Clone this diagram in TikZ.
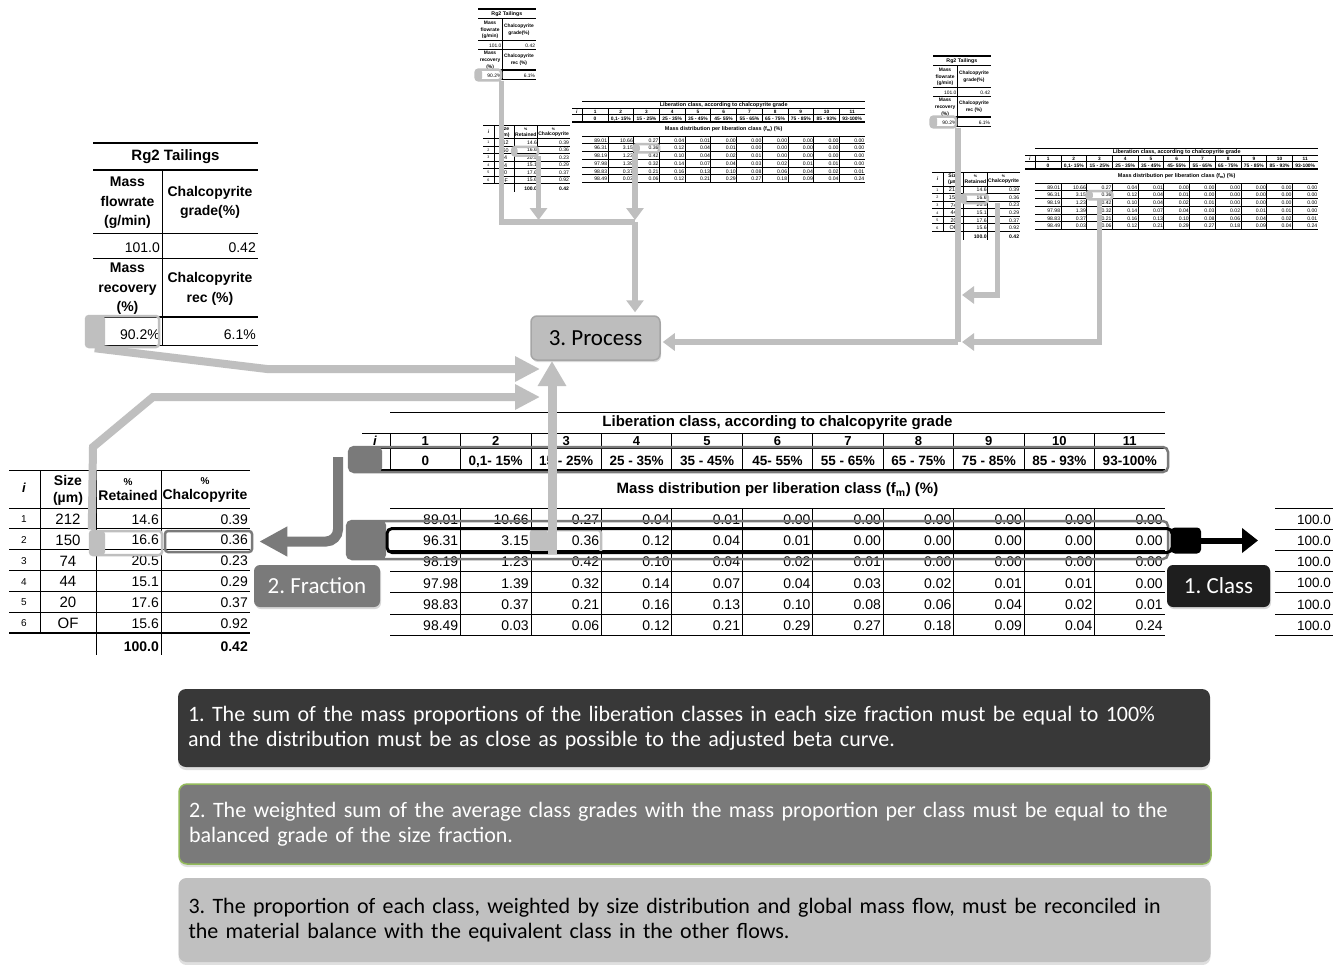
\documentclass[tikz,border=0pt]{standalone}
\usepackage{fontspec}
\setmainfont{Liberation Sans}
\newfontfamily\calibrifont{Carlito}
\usetikzlibrary{arrows.meta,shadows}
\frenchspacing
\definecolor{LightFlow}{HTML}{BFBFBF}
\definecolor{MidGray}{HTML}{7A7A7A}
\definecolor{DarkNote}{HTML}{383838}
\definecolor{ClassBlack}{HTML}{1E1E1E}
\definecolor{ProcFill}{HTML}{BDBDBD}
\definecolor{ProcEdge}{HTML}{A5A5A5}
\definecolor{NoteGreen}{HTML}{92B95A}
\definecolor{NoteLight}{HTML}{C0C0C0}

\tikzset{
  rule/.style={line width=0.7pt},
  heavyrule/.style={line width=1.6pt},
  hdr/.style={font=\bfseries\fontsize{14}{19.5}\selectfont,align=center,inner sep=0pt},
  val/.style={font=\fontsize{14}{16}\selectfont,anchor=east,inner sep=0pt},
  ctr/.style={font=\fontsize{14}{16}\selectfont,inner sep=0pt},
  hlcell/.style={draw=LightFlow,line width=2.5pt,rounded corners=3pt,inner sep=0pt},
  rowframe/.style={draw=MidGray,line width=2.5pt,rounded corners=5pt,inner sep=0pt},
  lgflow/.style={draw=LightFlow,line width=8pt,-{Triangle[length=25pt,width=24pt]}},
  lgthin/.style={draw=LightFlow,line width=5.5pt},
  thintip/.style={-{Triangle[length=12pt,width=17pt]}},
  fracflow/.style={draw=MidGray,line width=10pt,rounded corners=12pt,-{Triangle[length=28pt,width=28pt]}},
  tag/.style={rounded corners=6pt,font=\calibrifont\fontsize{23}{26}\selectfont,inner sep=0pt,
    drop shadow={opacity=0.3,shadow xshift=1pt,shadow yshift=-2pt}},
  note/.style={rounded corners=8pt,font=\calibrifont\fontsize{22}{25}\selectfont,align=left,
    text width=1012pt,inner xsep=10pt,inner ysep=0pt,
    drop shadow={opacity=0.25,shadow xshift=0pt,shadow yshift=-3pt}},
}

\newcommand\tailtab[1]{%
  \draw[heavyrule] (0,0) -- (165,0);
  \node[hdr,font=\bfseries\fontsize{15}{18}\selectfont] (#1-name) at (82.5,13.5) {Rg2 Tailings};
  \draw[heavyrule] (0,27) -- (165,27);
  \draw[rule] (69,27) -- (69,202);
  \node[hdr] (#1-flowh) at (34.5,60) {Mass\\flowrate\\(g/min)};
  \node[hdr] (#1-gradeh) at (117,59.5) {Chalcopyrite\\grade(\%)};
  \draw[rule] (0,90) -- (165,90);
  \node[val] (#1-flow) at (67,105) {101.0};
  \node[val] (#1-grade) at (163,105) {0.42};
  \draw[rule] (0,115) -- (165,115);
  \node[hdr] (#1-mrech) at (34.5,146) {Mass\\recovery\\(\%)};
  \node[hdr] (#1-crech) at (117,146) {Chalcopyrite\\rec (\%)};
  \draw[heavyrule] (0,174) -- (165,174);
  \node[val] (#1-mrec) at (67,192) {90.2\%};
  \node[val] (#1-crec) at (163,192) {6.1\%};
  \draw[rule] (0,202) -- (165,202);
}
\newcommand\tailmark[1]{%
  \fill[LightFlow,rounded corners=3pt] (-7,173) rectangle (12,204);
  \node[hlcell,minimum width=73pt,minimum height=31pt] (#1-hl) at (29.5,188.5) {};
}

\newcommand\sizetab[1]{%
  \draw[rule] (0,0) -- (241,0);
  \foreach \x in {31,87,152} \draw[rule] (\x,0) -- (\x,163);
  \foreach \x in {87,152} \draw[rule] (\x,163) -- (\x,185);
  \node[hdr,font=\bfseries\itshape\fontsize{13}{15}\selectfont] (#1-hi) at (15,18) {i};
  \node[hdr,font=\bfseries\fontsize{14}{17}\selectfont] (#1-hsize) at (59,20) {Size\\(µm)};
  \node[hdr,font=\bfseries\fontsize{14}{15}\selectfont] (#1-hret) at (119,20) {{\fontsize{10}{12}\selectfont\%}\\Retained};
  \node[hdr,font=\bfseries\fontsize{14}{15}\selectfont] (#1-hcha) at (196,20) {{\fontsize{10}{12}\selectfont\%}\\Chalcopyrite};
  \draw[rule] (0,38) -- (241,38);
  \foreach \s/\p/\g [count=\k] in {212/14.6/0.39,150/16.6/0.36,74/20.5/0.23,44/15.1/0.29,20/17.6/0.37,OF/15.6/0.92}{
    \node[ctr,font=\fontsize{10}{12}\selectfont] (#1-i\k) at (15,{38+20.8*\k-9.5}) {\k};
    \node[ctr,font=\fontsize{15}{17}\selectfont] (#1-s\k) at (59,{38+20.8*\k-9.5}) {\s};
    \node[val] (#1-r\k) at (150,{38+20.8*\k-9.5}) {\p};
    \node[val] (#1-c\k) at (239,{38+20.8*\k-9.5}) {\g};
    \draw[rule] (0,{38+20.8*\k}) -- (241,{38+20.8*\k});
  }
  \draw[heavyrule] (0,162.8) -- (241,162.8);
  \node[val,font=\bfseries\fontsize{14}{16}\selectfont] (#1-rtot) at (150,177) {100.0};
  \node[val,font=\bfseries\fontsize{14}{16}\selectfont] (#1-ctot) at (239,177) {0.42};
}
\newcommand\sizemark[1]{%
  \fill[LightFlow,rounded corners=3pt] (81,61) rectangle (96,85);
  \node[hlcell,minimum width=72pt,minimum height=24pt] (#1-hl) at (117,73) {};
}

\newcommand\libtab[1]{%
  \draw[rule] (28,0) -- (803,0);
  \node[hdr,font=\bfseries\fontsize{15}{17}\selectfont] (#1-title) at (415.5,11) {Liberation class, according to chalcopyrite grade};
  \draw[rule] (0,21) -- (803,21);
  \draw[rule] (0,36) -- (803,36);
  \draw[heavyrule] (0,58) -- (803,58);
  \foreach \k in {0,...,10} \draw[rule] ({28+70.45*\k},21) -- ({28+70.45*\k},58);
  \node[hdr,font=\bfseries\itshape\fontsize{13}{15}\selectfont] (#1-i) at (13,29) {i};
  \foreach \t [count=\k] in {0,{0,1- 15\%},{15 - 25\%},{25 - 35\%},{35 - 45\%},{45- 55\%},{55 - 65\%},{65 - 75\%},{75 - 85\%},{85 - 93\%},{93-100\%}}{
    \node[hdr,font=\bfseries\fontsize{13}{15}\selectfont] (#1-n\k) at ({28+70.45*\k-35.2},29) {\k};
    \node[hdr,font=\bfseries\fontsize{13.5}{15}\selectfont,anchor=base] (#1-g\k) at ({28+70.45*\k-35.2},53) {\t};
  }
  \node[hdr,font=\bfseries\fontsize{15}{17}\selectfont] (#1-sub) at (415.5,78) {Mass distribution per liberation class (f\textsubscript{m}) (\%)};
  \draw[rule] (28,96) -- (803,96);
  \foreach \row [count=\ri] in {{89.01,10.66,0.27,0.04,0.01,0.00,0.00,0.00,0.00,0.00,0.00},
      {96.31,3.15,0.36,0.12,0.04,0.01,0.00,0.00,0.00,0.00,0.00},
      {98.19,1.23,0.42,0.10,0.04,0.02,0.01,0.00,0.00,0.00,0.00},
      {97.98,1.39,0.32,0.14,0.07,0.04,0.03,0.02,0.01,0.01,0.00},
      {98.83,0.37,0.21,0.16,0.13,0.10,0.08,0.06,0.04,0.02,0.01},
      {98.49,0.03,0.06,0.12,0.21,0.29,0.27,0.18,0.09,0.04,0.24}}{
    \foreach \v [count=\ci] in \row
      \node[val] (#1-d\ri-\ci) at ({28+70.45*\ci-2},{96+21.2*\ri-9.5}) {\v};
    \draw[rule] (28,{96+21.2*\ri}) -- (803,{96+21.2*\ri});
  }
  \foreach \k in {1,...,10} \draw[rule] ({28+70.45*\k},96) -- ({28+70.45*\k},223.2);
}
\newcommand\libmark[1]{%
  \fill[LightFlow,rounded corners=3pt] (169,118) rectangle (186,141);
  \node[hlcell,minimum width=70pt,minimum height=23pt] (#1-hl) at (204,129.5) {};
}

\begin{document}
\begin{tikzpicture}[x=1pt,y=-1pt]
\fill[white] (0,0) rectangle (1343,964);
\useasboundingbox (0,0) rectangle (1343,964);

\begin{scope}[shift={(478,9)},scale=0.35,transform shape]
  \tailtab{at} \tailmark{at}
\end{scope}
\begin{scope}[shift={(483,125)},scale=0.36,transform shape]
  \sizetab{as} \sizemark{as}
\end{scope}
\begin{scope}[shift={(572,101)},scale=0.365,transform shape]
  \libtab{al} \libmark{al}
\end{scope}
\begin{scope}[shift={(933,56)},scale=0.35,transform shape]
  \tailtab{bt} \tailmark{bt}
\end{scope}
\begin{scope}[shift={(932,172)},scale=0.365,transform shape]
  \sizetab{bs} \sizemark{bs}
\end{scope}
\begin{scope}[shift={(1025,148)},scale=0.365,transform shape]
  \libtab{bl} \libmark{bl}
\end{scope}

\begin{scope}[shift={(93,143)}]
  \tailtab{mt} \tailmark{mt}
\end{scope}
\begin{scope}[shift={(9,470)}]
  \sizetab{ms} \sizemark{ms}
\end{scope}
\begin{scope}[shift={(362,412)}]
  \libtab{ml} \libmark{ml}
\end{scope}

\foreach \k in {0,...,6} \draw[rule] (1275,{508+21.2*\k}) -- (1333,{508+21.2*\k});
\foreach \k in {1,...,6} \node[val,font=\fontsize{13.5}{16}\selectfont] (tot\k) at (1331,{508+21.2*\k-9.5}) {100.0};

\node[tag,fill=ProcFill,draw=ProcEdge,line width=1.5pt,minimum width=129pt,minimum height=44pt] (proc) at (595.5,338) {3. Process};

\coordinate (aj) at (635,222);
\draw[lgthin] (at-hl.south east) |- (aj);
\draw[lgthin,thintip] (as-hl.south east) -- ([yshift=2pt]as-hl.south east |- aj);
\draw[lgthin,thintip] (al-hl.south west -| aj) -- ([yshift=2pt]aj);
\draw[lgthin,thintip] (aj) -- ([yshift=3pt]aj |- proc.north);

\coordinate (bj) at (958,342);
\coordinate (bk) at (962,295);
\draw[lgthin] (bt-hl.south east -| bj) -- (bj);
\draw[lgthin,thintip] ([xshift=9pt]bs-hl.south east) |- (bk);
\draw[lgthin,thintip] (bl-hl.south) |- ([xshift=4pt]bj);
\draw[lgthin,thintip] (bj) -- ([xshift=2pt]proc.east |- bj);

\fill[MidGray,rounded corners=4pt] (349,447) rectangle (382,472);
\node[rowframe,minimum width=819pt,minimum height=25pt] (rangeframe) at (758.5,459.5) {};
\fill[MidGray,rounded corners=4pt] (347,521) rectangle (386,559);
\node[rowframe,minimum width=821pt,minimum height=38pt] (fracframe) at (757.5,540) {};
\node[draw=black,line width=3pt,rounded corners=5pt,minimum width=785pt,minimum height=24pt,inner sep=0pt] (classrow) at (779.5,540.5) {};
\node[fill=black,rounded corners=4pt,minimum width=30pt,minimum height=26pt,inner sep=0pt] (classgrip) at (1186,540.5) {};
\coordinate (classtip) at (1258,540.5);
\draw[line width=6pt,-{Triangle[length=16pt,width=24pt]}] (classgrip.east) -- (classtip);

\node[draw=MidGray,line width=2.5pt,rounded corners=3pt,minimum width=87pt,minimum height=21pt,inner sep=0pt] (ms-cell) at (208.5,541.5) {};
\coordinate (fractop) at (338,457);
\draw[fracflow] (fractop) |- ([xshift=6pt]ms-cell.east);

\coordinate (bendA) at (267,369);
\coordinate (inA) at (540,369);
\draw[lgflow] ([xshift=10pt]mt-hl.south west) -- (bendA) -- (inA);
\coordinate (bendB1) at (93,447);
\coordinate (bendB2) at (153,397);
\coordinate (inB) at (540,397);
\draw[lgflow] ([xshift=3pt]ms-hl.north west) -- (bendB1) -- (bendB2) -- (inB);
\coordinate (inC) at (552,361);
\draw[lgflow,line width=9pt,-{Triangle[length=25pt,width=27pt]}] (inC |- ml-hl.south) -- (inC);

\node[tag,fill=MidGray,text=white,minimum width=126pt,minimum height=42pt] (frac) at (317,586) {2. Fraction};
\node[tag,fill=ClassBlack,text=white,minimum width=103pt,minimum height=42pt] (cls) at (1218.5,586) {1. Class};

\node[note,fill=DarkNote,text=white,minimum height=78pt] (note1) at (694,728) {1. The sum of the mass proportions of the liberation classes in each size fraction must be equal to 100\%\\and the distribution must be as close as possible to the adjusted beta curve.};
\node[note,fill=MidGray,draw=NoteGreen,line width=1.5pt,text=white,minimum height=80pt] (note2) at (695,824) {2. The weighted sum of the average class grades with the mass proportion per class must be equal to the\\balanced grade of the size fraction.};
\node[note,fill=NoteLight,text=black,minimum height=84pt] (note3) at (694.5,920) {3. The proportion of each class, weighted by  size distribution and global mass flow, must be reconciled in\\the material balance with the equivalent class in the other flows.};
\end{tikzpicture}
\end{document}
